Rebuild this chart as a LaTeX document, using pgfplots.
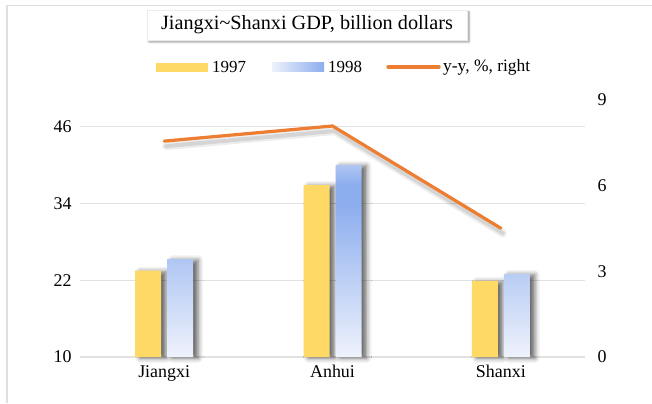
\documentclass[border=0pt]{standalone}
\usepackage{fontspec}
\setmainfont{Liberation Serif}
\usepackage{pgfplots}
\pgfplotsset{compat=1.18}
\usetikzlibrary{shadows.blur}
\definecolor{barY}{HTML}{FFD966}
\definecolor{bTop}{HTML}{B0C7F3}
\definecolor{bMid}{HTML}{8CADEE}
\definecolor{bBot}{HTML}{EEF2FC}
\definecolor{lineO}{HTML}{ED7D31}
\definecolor{gridc}{HTML}{E2E2E2}
\pgfdeclareverticalshading{bluebar}{100bp}{color(0bp)=(bBot); color(25bp)=(bBot); color(45bp)=(bMid!50!bBot); color(65bp)=(bMid); color(70bp)=(bMid); color(75bp)=(bTop); color(100bp)=(bTop)}
\begin{document}
\begin{tikzpicture}[x=1bp,y=1bp]
\path[use as bounding box] (0,0) rectangle (652,403);
\draw[gray!25, line width=1.5bp] (7,0) -- (7,397.5) -- (652,397.5);
\begin{axis}[at={(80bp,46bp)}, anchor=south west, width=505bp, height=257bp, scale only axis,
  xmin=-0.5, xmax=2.5, ymin=10, ymax=50.2, ytick={10,22,34,46},
  xtick={0,1,2}, xticklabels={Jiangxi,Anhui,Shanxi},
  axis line style={draw=none}, major tick length=0pt,
  ymajorgrids, grid style={gridc, line width=1.2bp},
  ybar=6bp, bar width=26bp,
  tick label style={font=\fontsize{18}{18}\selectfont},
  /pgf/number format/assume math mode=true,
  yticklabel style={xshift=-5bp},
  xticklabel style={yshift=-5bp},
  clip=false]
\addplot[fill=barY, draw=none, blur shadow={shadow xshift=5bp, shadow yshift=-1bp, shadow opacity=60, shadow blur radius=5bp}] coordinates {(0,23.5) (1,36.9) (2,21.9)};
\addplot[shading=bluebar, draw=none, blur shadow={shadow xshift=5bp, shadow yshift=-1bp, shadow opacity=60, shadow blur radius=5bp}] coordinates {(0,25.3) (1,40.05) (2,23.0)};
\end{axis}
\begin{axis}[at={(80bp,46bp)}, anchor=south west, width=505bp, height=257bp, scale only axis,
  xmin=-0.5, xmax=2.5, ymin=0, ymax=9, ytick={0,3,6,9},
  axis y line*=right, axis x line=none, axis line style={draw=none}, major tick length=0pt,
  tick label style={font=\fontsize{18}{18}\selectfont},
  /pgf/number format/assume math mode=true,
  yticklabel style={xshift=9bp},
  clip=false]
\addplot[black, opacity=0.07, line width=8bp, line cap=round, line join=round, xshift=2bp, yshift=-5bp] coordinates {(0,7.56) (1,8.09) (2,4.51)};
\addplot[black, opacity=0.10, line width=4bp, line cap=round, line join=round, xshift=2bp, yshift=-5bp] coordinates {(0,7.56) (1,8.09) (2,4.51)};
\addplot[lineO, line width=3.2bp, line cap=round, line join=round] coordinates {(0,7.56) (1,8.09) (2,4.51)};
\end{axis}
% title
\node[draw=gray!15, fill=white, minimum width=320bp, minimum height=30bp, inner sep=0pt,
  blur shadow={shadow xshift=2bp, shadow yshift=-2bp, shadow opacity=45, shadow blur radius=2bp},
  font=\fontsize{20.3}{20}\selectfont] at (307,378) {Jiangxi\textasciitilde Shanxi GDP, billion dollars};
% legend
\fill[barY] (156,331.5) rectangle (208,340.5);
\node[anchor=west, inner sep=0pt, font=\fontsize{17}{17}\selectfont] at (212,336) {1997};
\shade[left color=bBot, right color=bMid] (272,331.5) rectangle (324,340.5);
\node[anchor=west, inner sep=0pt, font=\fontsize{17}{17}\selectfont] at (328,336) {1998};
\draw[lineO, line width=3.2bp, line cap=round] (388,336) -- (439,336);
\node[anchor=west, inner sep=0pt, font=\fontsize{17.5}{17}\selectfont] at (443,336) {y-y, \%, right};
\end{tikzpicture}
\end{document}
